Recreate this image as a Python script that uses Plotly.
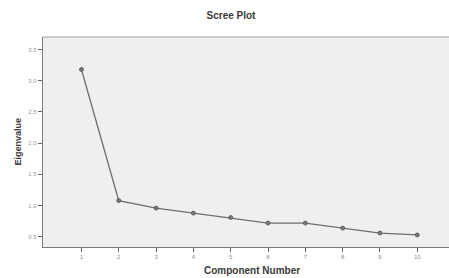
import plotly.graph_objects as go

components = [1, 2, 3, 4, 5, 6, 7, 8, 9, 10]
eigenvalues = [3.18, 1.08, 0.96, 0.88, 0.81, 0.72, 0.72, 0.64, 0.56, 0.53]
y_ticks = [0.5, 1.0, 1.5, 2.0, 2.5, 3.0, 3.5]
y_tick_labels = ["0.5", "1.0", "1.5", "2.0", "2.5", "3.0", "3.5"]

fig = go.Figure()
fig.add_trace(go.Scatter(
    x=components, y=eigenvalues, mode="lines+markers",
    line=dict(color="#6e6e6e", width=1.3),
    marker=dict(size=4, color="#777777", line=dict(color="#555555", width=0.8)),
    showlegend=False, hoverinfo="skip"
))

fig.update_layout(
    width=449, height=278,
    margin=dict(l=43, r=0, t=37, b=31, autoexpand=False),
    paper_bgcolor="white", plot_bgcolor="#efefef",
    title=dict(text="<b>Scree Plot</b>", x=231 / 449, xanchor="center", y=1 - 15 / 278, yanchor="middle",
               font=dict(family="Liberation Sans, Arial", size=10, color="#3a3a3a")),
    font=dict(family="Liberation Sans, Arial", color="#555555"),
)
fig.update_xaxes(
    range=[-0.03, 10.85], tickmode="array", tickvals=components,
    ticktext=[str(c) for c in components], automargin=False,
    ticks="outside", ticklen=4, tickcolor="#666666", tickfont=dict(size=6, color="#888888"),
    showgrid=False, zeroline=False, showline=True, linecolor="#7a7a7a", linewidth=1.2,
)
fig.update_yaxes(
    range=[0.337, 3.70], tickmode="array", tickvals=y_ticks, ticktext=y_tick_labels, automargin=False,
    ticks="outside", ticklen=4, tickcolor="#666666", tickfont=dict(size=6, color="#999999"),
    showgrid=False, zeroline=False, showline=True, linecolor="#7a7a7a", linewidth=1.2,
)
fig.add_annotation(text="<b>Component Number</b>", xref="paper", yref="paper", x=(252 - 43) / 406, y=-23 / 210,
                   xanchor="center", yanchor="middle", showarrow=False,
                   font=dict(family="Liberation Sans, Arial", size=10, color="#3a3a3a"))
fig.add_annotation(text="<b>Eigenvalue</b>", xref="paper", yref="paper", x=-26 / 406, y=(247.5 - 142) / 210,
                   xanchor="center", yanchor="middle", showarrow=False, textangle=-90,
                   font=dict(family="Liberation Sans, Arial", size=9, color="#3a3a3a"))
fig.add_shape(type="line", xref="paper", yref="paper", x0=0, x1=1, y0=1, y1=1,
              line=dict(color="#bdbdbd", width=1.5))
fig.write_html("out.html", config={"displayModeBar": False},
               post_script="document.body.style.margin='0';document.body.style.overflow='hidden';")
